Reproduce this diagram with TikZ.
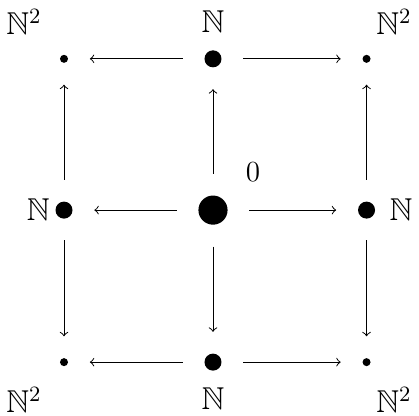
\documentclass[tikz,border=0pt]{standalone}
\usepackage{amsmath,amssymb}
\usepackage{tikz}
\usetikzlibrary{arrows,positioning}

\begin{document}
\begin{tikzpicture}[x=2.2cm,y=2.2cm,
  bigdot/.style={circle,fill,inner sep=0pt,minimum size=12pt,outer sep=9pt},
  middot/.style={circle,fill,inner sep=0pt,minimum size=7pt,outer sep=9pt},
  smalldot/.style={circle,fill,inner sep=0pt,minimum size=3.3pt,outer sep=9pt},
  lab/.style={font=\fontsize{13}{15}\selectfont}]
  \useasboundingbox (-1.401,-1.349) rectangle (1.355,1.382);

  % 原点
  \node[bigdot] (o) at (0,0) {};
  \node[lab] (lo) at (0.263,0.25) {$0$};

  % 軸上の点
  \node[middot] (r) at (1.01,0) {};
  \node[middot] (l) at (-0.98,0) {};
  \node[middot] (u) at (0,0.995) {};
  \node[middot] (d) at (0,-1) {};
  \node[lab] (lr) at (1.237,0) {$\mathbb{N}$};
  \node[lab] (ll) at (-1.15,0) {$\mathbb{N}$};
  \node[lab] (lu) at (0,1.243) {$\mathbb{N}$};
  \node[lab] (ld) at (0,-1.237) {$\mathbb{N}$};

  % 象限の点
  \node[smalldot] (ur) at (1.01,0.995) {};
  \node[smalldot] (ul) at (-0.98,0.995) {};
  \node[smalldot] (dr) at (1.01,-1) {};
  \node[smalldot] (dl) at (-0.98,-1) {};
  \node[lab] (lur) at (1.19,1.237) {$\mathbb{N}^2$};
  \node[lab] (lul) at (-1.243,1.237) {$\mathbb{N}^2$};
  \node[lab] (ldr) at (1.19,-1.25) {$\mathbb{N}^2$};
  \node[lab] (ldl) at (-1.243,-1.25) {$\mathbb{N}^2$};

  % 矢印
  \draw[->] (o) -- (r);
  \draw[->] (o) -- (l);
  \draw[->] (o) -- (u);
  \draw[->] (o) -- (d);
  \draw[->] (u) -- (ur);
  \draw[->] (u) -- (ul);
  \draw[->] (d) -- (dr);
  \draw[->] (d) -- (dl);
  \draw[->] (r) -- (ur);
  \draw[->] (r) -- (dr);
  \draw[->] (l) -- (ul);
  \draw[->] (l) -- (dl);
\end{tikzpicture}
\end{document}
